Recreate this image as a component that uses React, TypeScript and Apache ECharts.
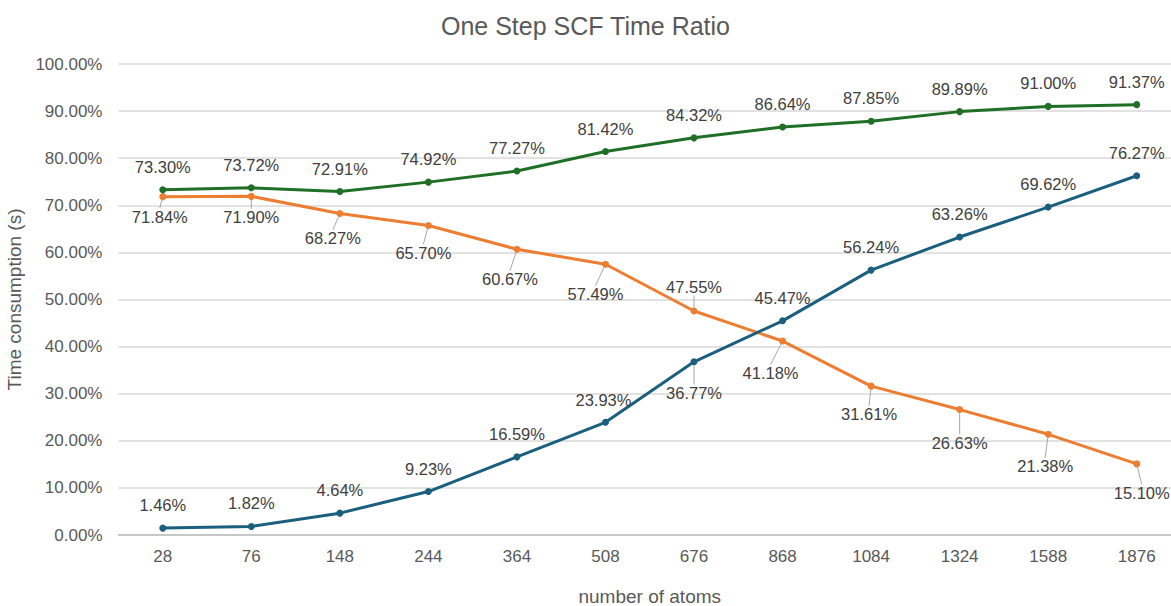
import React, { useEffect, useRef } from "react";
import * as echarts from "echarts";

const categories = ["28", "76", "148", "244", "364", "508", "676", "868", "1084", "1324", "1588", "1876"];
const greenValues = [73.3, 73.72, 72.91, 74.92, 77.27, 81.42, 84.32, 86.64, 87.85, 89.89, 91.0, 91.37];
const orangeValues = [71.84, 71.9, 68.27, 65.7, 60.67, 57.49, 47.55, 41.18, 31.61, 26.63, 21.38, 15.1];
const blueValues = [1.46, 1.82, 4.64, 9.23, 16.59, 23.93, 36.77, 45.47, 56.24, 63.26, 69.62, 76.27];

// label placement tweaks (relative to default label position)
const orangeLabelShift = [
  [-3, 1], [0, 2], [-7, 6], [-5, 8], [-7, 11], [-10, 11],
  [0, -43], [-12, 13], [-2, 9], [0, 14], [-3, 13], [5, 10],
];
const blueLabelShift = [
  [0, 0], [0, 0], [0, 0], [0, 0], [0, 0], [-2, 1],
  [0, 54], [0, 0], [0, 0], [0, 0], [0, 0], [0, 0],
];

const FONT = "'Liberation Sans', Arial, sans-serif";

export default function App() {
  const ref = useRef<HTMLDivElement>(null);
  useEffect(() => {
    if (!ref.current) return;
    const chart = echarts.init(ref.current, undefined, { renderer: "svg" });
    const fmt = (v: number) => v.toFixed(2) + "%";
    const labelBase = {
      show: true,
      fontFamily: FONT,
      fontSize: 16.5,
      color: "#404040",
      formatter: (p: any) => fmt(p.value),
    };
    chart.setOption({
      animation: false,
      backgroundColor: "#ffffff",
      title: {
        text: "One Step SCF Time Ratio",
        left: "center",
        top: 13,
        padding: 0,
        textStyle: { fontFamily: FONT, fontSize: 25, fontWeight: "normal", color: "#595959" },
      },
      grid: { left: 118.5, right: -10, top: 64, bottom: 71, containLabel: false, outerBoundsMode: "none" },
      xAxis: {
        type: "category",
        data: categories,
        boundaryGap: true,
        name: "number of atoms",
        nameLocation: "middle",
        nameGap: 52,
        nameTextStyle: { fontFamily: FONT, fontSize: 19, color: "#595959" },
        axisTick: { show: false },
        axisLine: { lineStyle: { color: "#bfbfbf", width: 1.5 } },
        axisLabel: { fontFamily: FONT, fontSize: 17, color: "#595959", margin: 13 },
      },
      yAxis: {
        type: "value",
        min: 0,
        max: 100,
        interval: 10,
        name: "Time consumption (s)",
        nameLocation: "middle",
        nameGap: 90,
        nameTextStyle: { fontFamily: FONT, fontSize: 19, color: "#595959" },
        axisLine: { show: false },
        axisTick: { show: false },
        axisLabel: { fontFamily: FONT, fontSize: 17, color: "#595959", margin: 16, formatter: fmt },
        splitLine: { lineStyle: { color: "#d9d9d9", width: 1.5 } },
      },
      series: [
        {
          name: "green",
          type: "line",
          data: greenValues,
          symbol: "circle",
          symbolSize: 7,
          lineStyle: { color: "#1f6f27", width: 3 },
          itemStyle: { color: "#1f6f27" },
          label: { ...labelBase, position: "top", distance: 11 },
          z: 3,
        },
        {
          name: "orange",
          type: "line",
          data: orangeValues,
          symbol: "circle",
          symbolSize: 7,
          lineStyle: { color: "#ed7d31", width: 3 },
          itemStyle: { color: "#ed7d31" },
          label: { ...labelBase, position: "bottom", distance: 7 },
          labelLine: { show: true, lineStyle: { color: "#a6a6a6", width: 1 } },
          labelLayout: (p: any) => ({ dx: orangeLabelShift[p.dataIndex][0], dy: orangeLabelShift[p.dataIndex][1] }),
          z: 2,
        },
        {
          name: "blue",
          type: "line",
          data: blueValues.map((v, i) =>
            i === 6 ? { value: v, labelLine: { show: true, lineStyle: { color: "#a6a6a6", width: 1 } } } : v
          ),
          symbol: "circle",
          symbolSize: 7,
          lineStyle: { color: "#1b5f7f", width: 3 },
          itemStyle: { color: "#1b5f7f" },
          label: { ...labelBase, position: "top", distance: 11 },
          labelLayout: (p: any) => ({ dx: blueLabelShift[p.dataIndex][0], dy: blueLabelShift[p.dataIndex][1] }),
          z: 4,
        },
      ],
    });
    return () => chart.dispose();
  }, []);
  return (
    <div
      ref={ref}
      style={{ position: "absolute", left: 0, top: 0, width: 1171, height: 606 }}
    />
  );
}
